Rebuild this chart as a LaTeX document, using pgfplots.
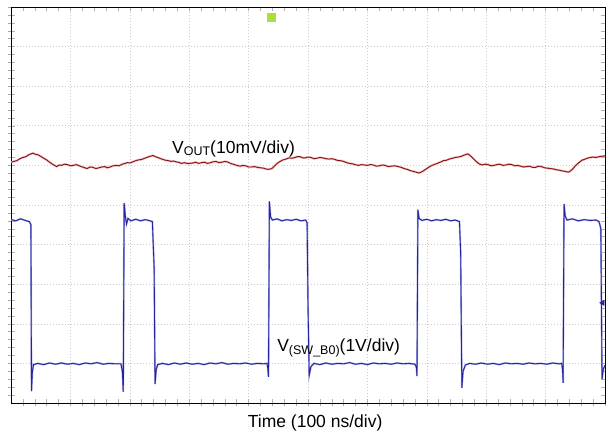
\documentclass[border=0pt]{standalone}
\usepackage{pgfplots}
\pgfplotsset{compat=1.18}
\usepackage{fontspec}
\setmainfont{Liberation Sans}
\definecolor{trRed}{HTML}{861414}
\definecolor{trRedHalo}{HTML}{F4BCBC}
\definecolor{trBlue}{HTML}{2424A0}
\definecolor{trBlueHalo}{HTML}{A8A8E0}
\definecolor{trig}{HTML}{A8E040}
\begin{document}
\begin{tikzpicture}
\useasboundingbox (-11pt,-28pt) rectangle (599pt,403pt);
% centre cross with small ticks
\begin{axis}[at={(0,0)},anchor=south west,scale only axis,width=594pt,height=396pt,
  xmin=0,xmax=10,ymin=0,ymax=10,axis lines=middle,
  axis line style={gray!60,densely dotted,-},
  xtick={0,0.2,...,10},ytick={0,0.2,...,10},xticklabels={},yticklabels={},
  tick style={gray!70,solid,line width=0.5pt},major tick length=6pt,tick align=center]
\end{axis}
\begin{axis}[at={(0,0)},anchor=south west,scale only axis,width=594pt,height=396pt,
  xmin=0,xmax=10,ymin=0,ymax=10,
  xtick={0,...,10},ytick={0,...,10},xticklabels={},yticklabels={},
  minor x tick num=4,minor y tick num=4,
  grid=major,major grid style={gray!40,dash pattern=on 0.8pt off 2.2pt,line width=0.6pt},
  tick align=inside,major tick length=4pt,minor tick length=4pt,
  tick style={gray!60,line width=0.5pt},
  axis line style={black,line width=0.9pt},
  xlabel={\fontsize{17.5}{20}\selectfont Time (100 ns/div)},
  xlabel style={at={(axis description cs:0.512,0)},anchor=base,yshift=-24pt},
  clip=true]
% V_OUT trace
\pgfplotstableread{
x y
0.00 6.08
0.05 6.10
0.10 6.12
0.15 6.17
0.20 6.20
0.25 6.22
0.30 6.27
0.37 6.31
0.41 6.28
0.45 6.27
0.50 6.23
0.55 6.18
0.60 6.14
0.65 6.08
0.72 6.01
0.77 5.97
0.81 6.01
0.85 6.00
0.90 6.03
0.95 6.02
1.00 5.99
1.05 6.00
1.10 6.02
1.15 5.99
1.22 5.95
1.28 5.92
1.33 5.96
1.38 5.95
1.43 5.92
1.48 5.94
1.53 5.96
1.58 5.97
1.62 5.94
1.67 5.96
1.72 5.99
1.77 6.00
1.82 5.99
1.87 6.03
1.92 6.05
1.96 6.07
2.00 6.06
2.05 6.09
2.10 6.12
2.15 6.14
2.20 6.15
2.25 6.18
2.32 6.22
2.39 6.25
2.43 6.22
2.47 6.20
2.52 6.17
2.56 6.15
2.60 6.13
2.65 6.12
2.69 6.10
2.73 6.11
2.78 6.09
2.82 6.08
2.87 6.05
2.92 6.07
2.96 6.05
3.00 6.05
3.06 6.06
3.11 6.08
3.16 6.05
3.21 6.07
3.26 6.08
3.31 6.05
3.36 6.07
3.40 6.09
3.45 6.10
3.50 6.07
3.55 6.08
3.60 6.10
3.64 6.09
3.68 6.06
3.72 6.04
3.76 6.02
3.80 6.00
3.86 5.98
3.90 6.00
3.95 5.99
4.00 5.96
4.05 5.96
4.10 5.97
4.15 5.95
4.20 5.94
4.25 5.93
4.29 5.91
4.33 5.90
4.37 5.91
4.40 5.93
4.44 5.99
4.48 6.05
4.53 6.10
4.58 6.14
4.63 6.16
4.68 6.19
4.73 6.18
4.78 6.20
4.82 6.22
4.87 6.22
4.91 6.19
4.95 6.19
5.00 6.21
5.05 6.20
5.10 6.17
5.15 6.18
5.20 6.20
5.25 6.19
5.30 6.17
5.35 6.16
5.40 6.17
5.45 6.15
5.51 6.12
5.55 6.12
5.60 6.10
5.65 6.07
5.70 6.05
5.75 6.04
5.79 6.02
5.85 6.00
5.90 6.02
5.95 6.01
6.00 6.00
6.05 6.02
6.10 6.01
6.15 5.98
6.20 5.99
6.25 6.01
6.30 6.00
6.35 5.97
6.40 5.98
6.46 5.99
6.52 5.97
6.57 5.95
6.62 5.92
6.67 5.90
6.72 5.87
6.77 5.85
6.82 5.83
6.86 5.81
6.89 5.82
6.93 5.85
6.97 5.89
7.01 5.93
7.05 5.97
7.09 6.00
7.12 6.02
7.16 6.04
7.19 6.06
7.24 6.09
7.28 6.12
7.33 6.13
7.38 6.16
7.43 6.18
7.48 6.20
7.53 6.21
7.58 6.23
7.63 6.26
7.69 6.29
7.72 6.26
7.75 6.22
7.79 6.16
7.83 6.10
7.88 6.04
7.93 6.01
7.98 6.03
8.03 6.02
8.08 5.99
8.13 6.00
8.18 6.02
8.23 6.03
8.28 6.00
8.33 6.01
8.38 6.03
8.43 6.02
8.48 5.99
8.53 6.00
8.58 5.98
8.63 5.96
8.68 5.97
8.73 5.98
8.78 5.95
8.83 5.95
8.88 5.98
8.93 5.97
8.98 5.94
9.03 5.93
9.08 5.92
9.13 5.91
9.18 5.89
9.23 5.88
9.28 5.86
9.33 5.85
9.38 5.83
9.41 5.85
9.45 5.90
9.49 5.97
9.53 6.03
9.57 6.08
9.61 6.13
9.65 6.15
9.70 6.18
9.75 6.20
9.80 6.21
9.85 6.20
9.90 6.22
9.95 6.23
10.0 6.24
}\vouttrace
\addplot[trRedHalo,line width=2.2pt] table {\vouttrace};
\addplot[trRed,line width=0.9pt] table {\vouttrace};
% V_SW trace
\pgfplotstableread{
x y
0.00 4.63
0.08 4.60
0.16 4.65
0.24 4.61
0.31 4.58
0.335 4.50
0.345 0.30
0.36 0.80
0.38 0.97
0.45 1.00
0.55 0.97
0.65 1.01
0.75 0.98
0.85 1.01
0.95 0.98
1.05 1.00
1.15 0.97
1.25 1.01
1.35 0.99
1.45 1.02
1.55 0.98
1.65 1.00
1.75 0.99
1.85 0.99
1.875 0.80
1.89 0.28
1.905 5.05
1.925 4.72
1.945 4.52
1.97 4.66
2.02 4.60
2.10 4.64
2.18 4.60
2.26 4.63
2.34 4.60
2.38 4.58
2.41 3.40
2.425 0.48
2.445 0.85
2.47 0.97
2.55 1.00
2.65 0.97
2.75 1.01
2.85 0.98
2.95 1.01
3.05 0.98
3.15 1.00
3.25 0.97
3.35 1.01
3.45 0.99
3.55 1.02
3.65 0.98
3.75 1.00
3.85 0.99
3.95 1.01
4.05 0.98
4.15 1.00
4.25 0.99
4.31 1.00
4.325 0.85
4.335 0.66
4.35 5.09
4.37 4.70
4.40 4.62
4.48 4.65
4.56 4.60
4.64 4.63
4.72 4.61
4.80 4.64
4.88 4.60
4.96 4.62
4.985 4.55
5.00 2.50
5.02 0.70
5.05 0.92
5.10 1.00
5.20 0.97
5.30 1.01
5.40 0.98
5.50 1.00
5.60 0.99
5.70 1.02
5.80 0.98
5.90 1.00
6.00 0.97
6.10 1.01
6.20 0.99
6.30 1.00
6.40 0.98
6.50 1.01
6.60 0.99
6.70 1.00
6.80 0.98
6.825 0.90
6.835 0.68
6.85 4.88
6.87 4.66
6.92 4.61
7.00 4.64
7.08 4.60
7.16 4.63
7.24 4.61
7.32 4.64
7.40 4.60
7.48 4.62
7.55 4.58
7.57 3.80
7.59 0.38
7.61 0.80
7.65 0.96
7.72 1.00
7.82 0.98
7.92 1.01
8.02 0.98
8.12 1.00
8.22 0.97
8.32 1.01
8.42 0.99
8.52 1.00
8.62 0.98
8.72 1.01
8.82 0.99
8.92 1.00
9.02 0.98
9.12 1.01
9.22 0.99
9.27 1.00
9.285 0.85
9.295 0.51
9.31 5.03
9.33 4.72
9.36 4.62
9.45 4.65
9.55 4.60
9.65 4.63
9.75 4.61
9.85 4.62
9.90 4.58
9.93 4.40
9.95 0.60
9.97 0.85
10.0 0.95
}\swtrace
\addplot[trBlueHalo,line width=1.8pt] table {\swtrace};
\addplot[trBlue,line width=0.9pt] table {\swtrace};
% channel and trigger markers
\addplot[only marks,mark=triangle*,mark size=3pt,color=trBlue,mark options={rotate=90}] coordinates {(9.96,2.53)};
\addplot[only marks,mark=square*,mark size=4pt,color=trig,mark options={rounded corners=1.5pt}] coordinates {(4.38,9.75)};
% labels
\node[anchor=base west,inner sep=0pt] at (axis cs:2.71,6.31)
  {\fontsize{17.5}{20}\selectfont V\raisebox{-2pt}{\fontsize{12.5}{14}\selectfont OUT}(10mV/div)};
\node[anchor=base west,inner sep=0pt] at (axis cs:4.48,1.29)
  {\fontsize{17.5}{20}\selectfont V\raisebox{-3pt}{\fontsize{12.5}{14}\selectfont (SW\_B0)}(1V/div)};
\end{axis}
\end{tikzpicture}
\end{document}
